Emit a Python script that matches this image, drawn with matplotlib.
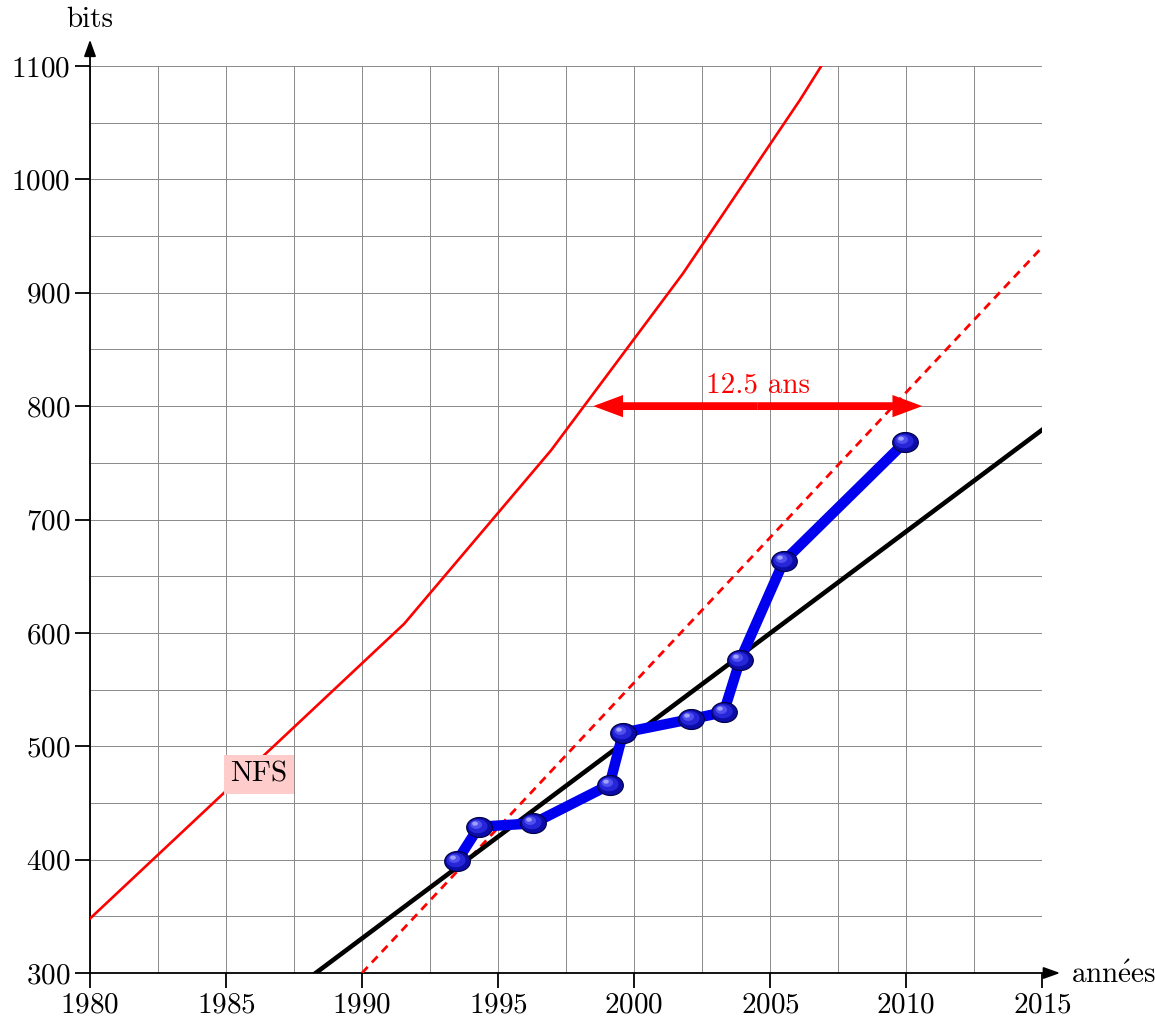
import matplotlib
matplotlib.use("Agg")
import matplotlib.pyplot as plt
import numpy as np
from matplotlib.path import Path
from matplotlib.ticker import MultipleLocator

plt.rcParams["font.family"] = ["cmr10", "DejaVu Serif"]
plt.rcParams["mathtext.fontset"] = "cm"
plt.rcParams["axes.formatter.use_mathtext"] = True

# données
nfs_years = [1980.0, 1991.55, 1996.95, 2001.8, 2006.1, 2007.2]
nfs_bits = [348, 608, 761, 917, 1070, 1112]

trend_years = [1990.0, 2015.0]
trend_bits = [300, 940]

fit_years = [1988.3, 2015.0]
fit_bits = [300, 779]

record_years = [1993.5, 1994.3, 1996.3, 1999.1, 1999.6, 2002.1, 2003.3, 2003.9, 2005.5, 2009.95]
record_bits = [399, 429, 432, 466, 512, 524, 530, 576, 663, 768]

gap_start, gap_end, gap_bits = 1998.5, 2010.6, 800
gap_label = "12.5 ans"

FS = 21

fig = plt.figure(figsize=(11.55, 10.18), dpi=100)
ax = fig.add_axes([90 / 1155, 1 - 973 / 1018, 952 / 1155, 907 / 1018])
ax.set_xlim(1980, 2015)
ax.set_ylim(300, 1100)

ax.xaxis.set_major_locator(MultipleLocator(5))
ax.xaxis.set_minor_locator(MultipleLocator(2.5))
ax.yaxis.set_major_locator(MultipleLocator(100))
ax.yaxis.set_minor_locator(MultipleLocator(50))
ax.grid(True, which="both", color="#8a8a8a", linewidth=0.7, zorder=0)
ax.set_axisbelow(True)
ax.tick_params(which="major", direction="out", length=11, width=1.3, labelsize=FS, pad=3)
ax.tick_params(which="minor", length=0)
for s in ax.spines.values():
    s.set_visible(False)

# axes avec flèches
arr = dict(arrowstyle="-|>,head_length=0.5,head_width=0.18", color="black", lw=1.3,
           shrinkA=0, shrinkB=0, mutation_scale=20)
ax.annotate("", xy=(0, 1.029), xytext=(0, 0), xycoords="axes fraction", arrowprops=arr,
            annotation_clip=False)
ax.annotate("", xy=(1.019, 0), xytext=(0, 0), xycoords="axes fraction", arrowprops=arr,
            annotation_clip=False)
fig.text(90 / 1155, 1 - 20 / 1018, "bits", ha="center", va="center", fontsize=FS)
fig.text(1071 / 1155, 1 - 975 / 1018, r"$\mathrm{ann\acute{e}es}$", ha="left", va="center", fontsize=FS)

ax.plot(nfs_years, nfs_bits, color="red", lw=1.9, zorder=3)
ax.plot(trend_years, trend_bits, color="red", lw=2, dashes=(3, 2.2), zorder=3)
ax.plot(fit_years, fit_bits, color="black", lw=3.3, zorder=3)
ax.plot(record_years, record_bits, color="#0000ee", lw=7.5, solid_capstyle="round", zorder=4)

# billes bleues : ellipse + reflets
MS = 18.5
t = np.linspace(0, 2 * np.pi, 60)
ball = Path(np.column_stack([np.cos(t), 0.78 * np.sin(t)]), closed=True)
ax.plot(record_years, record_bits, ls="none", marker=ball, markersize=MS,
        markerfacecolor="#0c0ca8", markeredgecolor="#000040", markeredgewidth=0.8, zorder=5)
mid_v = np.column_stack([-0.12 + 0.75 * np.cos(t), 0.1 + 0.55 * np.sin(t)])
ax.plot(record_years, record_bits, ls="none", marker=Path(mid_v, closed=True),
        markersize=MS * np.abs(mid_v).max(), markerfacecolor="#2626d8",
        markeredgewidth=0, zorder=6)
in_v = np.column_stack([-0.25 + 0.45 * np.cos(t), 0.22 + 0.33 * np.sin(t)])
ax.plot(record_years, record_bits, ls="none", marker=Path(in_v, closed=True),
        markersize=MS * np.abs(in_v).max(), markerfacecolor="#5050f0",
        markeredgewidth=0, zorder=7)
hi_v = np.column_stack([-0.35 + 0.22 * np.cos(t), 0.3 + 0.16 * np.sin(t)])
ax.plot(record_years, record_bits, ls="none", marker=Path(hi_v, closed=True),
        markersize=MS * np.abs(hi_v).max(), markerfacecolor="#a0a0ff",
        markeredgewidth=0, zorder=8)

# flèche double (deux flèches pleines depuis le milieu)
gap_mid = (gap_start + gap_end) / 2
simple = dict(arrowstyle="simple,head_length=2.15,head_width=1.6,tail_width=0.56",
              color="red", lw=0, shrinkA=0, shrinkB=0, mutation_scale=10)
for end in (gap_start, gap_end):
    ax.annotate("", xy=(end, gap_bits), xytext=(gap_mid, gap_bits), arrowprops=simple, zorder=6)
ax.text(gap_mid, gap_bits + 18, gap_label, color="red", fontsize=FS,
        ha="center", va="center", zorder=6)

ax.text(1986.2, 475, "NFS", fontsize=FS, ha="center", va="center", zorder=6,
        bbox=dict(boxstyle="square,pad=0.22", facecolor="#ffcccc", edgecolor="none"))

fig.savefig("out.png", dpi=100)
